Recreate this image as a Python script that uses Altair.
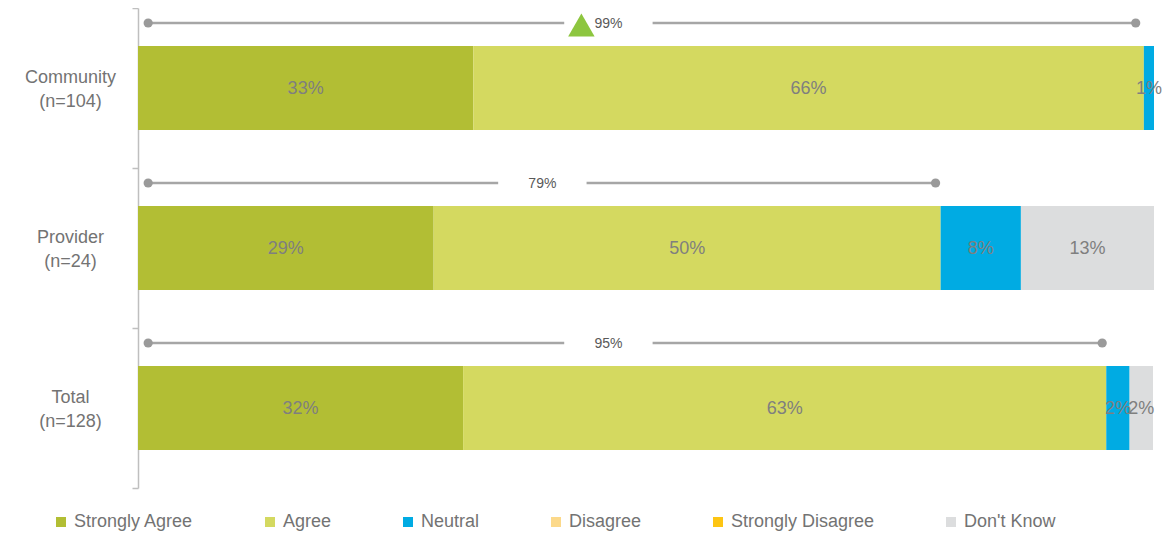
import altair as alt
import pandas as pd

groups = ["Community\n(n=104)", "Provider\n(n=24)", "Total\n(n=128)"]
categories = ["Strongly Agree", "Agree", "Neutral", "Disagree", "Strongly Disagree", "Don't Know"]
colors = ["#B2BE34", "#D4D960", "#00ABE3", "#FCD98A", "#FDC513", "#DCDDDE"]

strongly_agree = [33.0, 29.1, 32.0]
agree = [66.0, 49.9, 63.3]
neutral = [1.0, 7.9, 2.3]
disagree = [0.0, 0.0, 0.0]
strongly_disagree = [0.0, 0.0, 0.0]
dont_know = [0.0, 13.1, 2.3]

top2_labels = ["99%", "79%", "95%"]
bracket_start = [1.0, 1.0, 1.0]
bracket_end = [98.2, 78.5, 94.9]
label_center = [46.3, 39.8, 46.3]
significant = [True, False, False]

series = [strongly_agree, agree, neutral, disagree, strongly_disagree, dont_know]

# build segments table
rows = []
for gi, g in enumerate(groups):
    acc = 0.0
    for ci, cat in enumerate(categories):
        v = series[ci][gi]
        if v > 0:
            rows.append({"group": g, "cat": cat, "order": ci, "start": acc, "end": acc + v,
                         "mid": acc + v / 2, "label": f"{int(v + 0.5)}%"})
        acc += v
seg = pd.DataFrame(rows)

GAP = 4.35
brk_rows, dot_rows, lab_rows, tri_rows = [], [], [], []
for gi, g in enumerate(groups):
    brk_rows.append({"group": g, "x": bracket_start[gi], "x2": label_center[gi] - GAP})
    brk_rows.append({"group": g, "x": label_center[gi] + GAP, "x2": bracket_end[gi]})
    dot_rows.append({"group": g, "x": bracket_start[gi]})
    dot_rows.append({"group": g, "x": bracket_end[gi]})
    lab_rows.append({"group": g, "x": label_center[gi], "text": top2_labels[gi]})
    if significant[gi]:
        tri_rows.append({"group": g, "x": label_center[gi] - 2.66})
brk = pd.DataFrame(brk_rows)
dots = pd.DataFrame(dot_rows)
labs = pd.DataFrame(lab_rows)
tris = pd.DataFrame(tri_rows)

FONT = "Liberation Sans"
Y = alt.Y("group:N", sort=groups, title=None,
          scale=alt.Scale(paddingInner=0, paddingOuter=0),
          axis=alt.Axis(labelExpr="split(datum.label, '\\n')", labelAlign="center",
                        labelBaseline="middle", labelPadding=62, labelLineHeight=24,
                        labelOffset=-11,
                        labelFontSize=18, labelColor="#737373", labelFont=FONT,
                        tickBand="extent", tickSize=6, tickColor="#BFBFBF",
                        domainColor="#BFBFBF", domainWidth=1.5, tickWidth=1.5, grid=False))
XS = alt.Scale(domain=[0, 100], nice=False, zero=True)

bars = alt.Chart(seg).mark_bar(height=84).encode(
    y=Y,
    x=alt.X("start:Q", scale=XS, axis=None),
    x2="end:Q",
    color=alt.Color("cat:N", scale=alt.Scale(domain=categories, range=colors),
                    legend=alt.Legend(title=None, orient="none", legendX=-86, legendY=505,
                                      direction="horizontal", columns=6, symbolType="square",
                                      symbolSize=100, symbolStrokeWidth=0, labelFontSize=18,
                                      labelColor="#737373", labelFont=FONT, columnPadding=67,
                                      labelOffset=4, padding=0)),
    order="order:Q",
)
bar_text = alt.Chart(seg).mark_text(fontSize=18, color="#7F7F7F", font=FONT, dy=1).encode(
    y=Y, x=alt.X("mid:Q", scale=XS, axis=None), text="label:N")

rules = alt.Chart(brk).mark_rule(yOffset=-65, strokeWidth=2.5, color="#A6A6A6").encode(
    y=Y, x=alt.X("x:Q", scale=XS, axis=None), x2="x2:Q")
points = alt.Chart(dots).mark_circle(yOffset=-65, size=85, opacity=1, color="#9A9A9A").encode(
    y=Y, x=alt.X("x:Q", scale=XS, axis=None))
btext = alt.Chart(labs).mark_text(yOffset=-64, fontSize=14, color="#595959", font=FONT).encode(
    y=Y, x=alt.X("x:Q", scale=XS, axis=None), text="text:N")
tri = alt.Chart(tris).mark_point(shape="triangle-up", filled=True, opacity=1, size=700,
                                 yOffset=-63, color="#8DC63F", strokeWidth=0).encode(
    y=Y, x=alt.X("x:Q", scale=XS, axis=None))

chart = alt.layer(bars, bar_text, rules, points, btext, tri).properties(
    width=1016, height=480,
    autosize=alt.AutoSizeParams(type="none"),
    padding={"left": 130, "top": 0, "right": 10, "bottom": 49},
).configure(font=FONT).configure_view(stroke=None)

chart.save("out.html", embed_options={"renderer": "svg", "actions": False})
